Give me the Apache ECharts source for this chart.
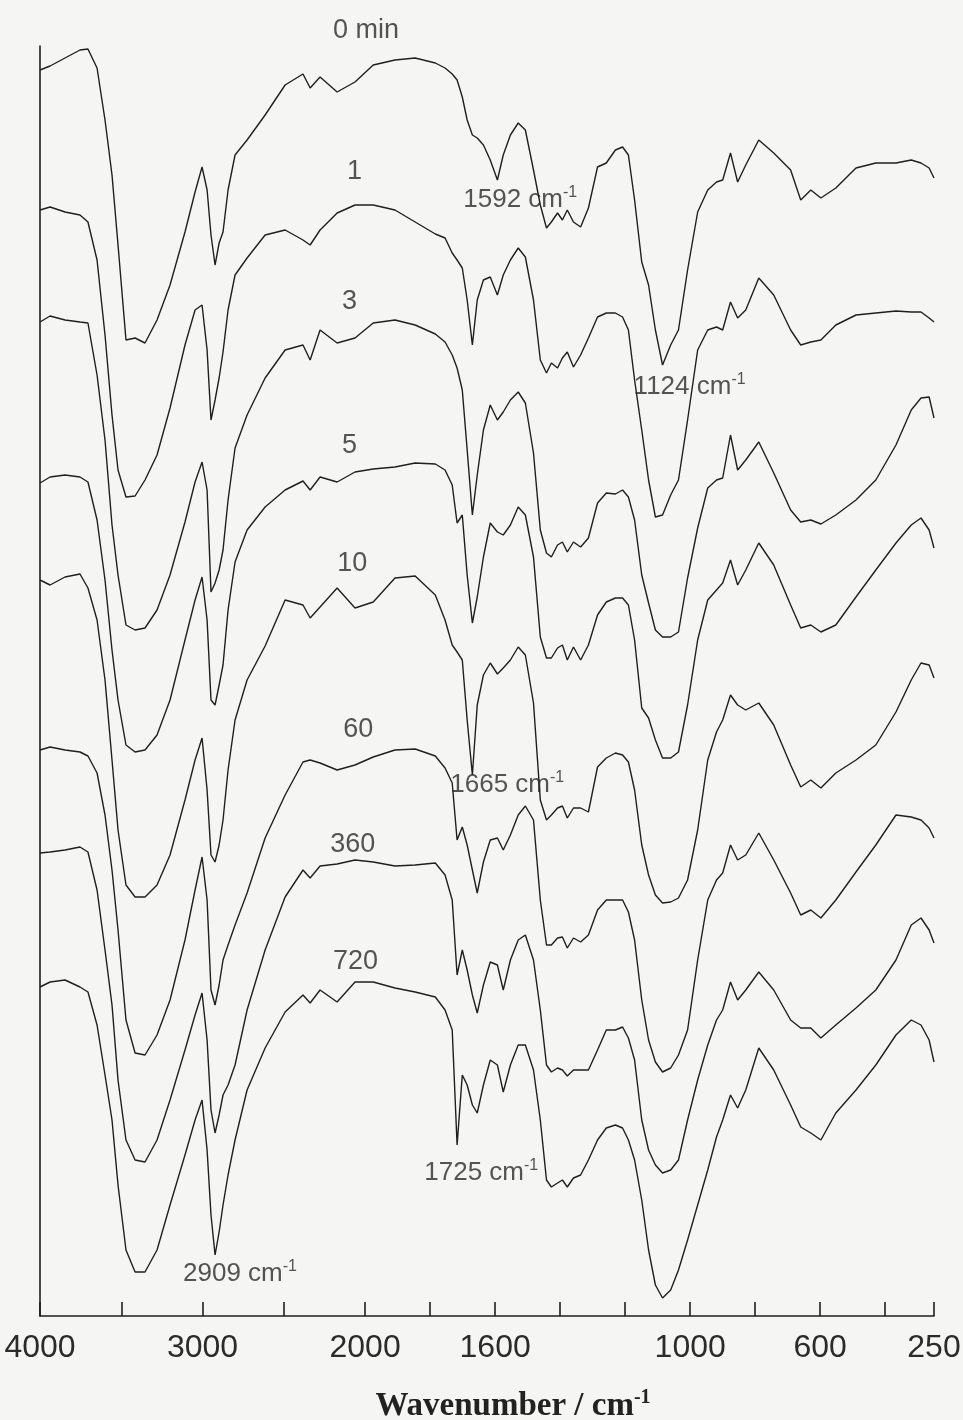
<!DOCTYPE html>
<html>
<head>
<meta charset="utf-8">
<title>IR spectra vs time</title>
<script src="https://cdn.jsdelivr.net/npm/echarts@6.0.0/dist/echarts.min.js"></script>
<style>
  html, body { margin: 0; padding: 0; background: #f5f5f4; }
  #chart { width: 963px; height: 1420px; }
</style>
</head>
<body>
<div id="chart"></div>
<script>
// wavenumber grid, cm-1
var wavenumbers = [
  4000, 3938, 3846, 3754, 3705, 3649, 3600, 3557, 3520, 3471,
  3415, 3354, 3280, 3200, 3108, 3046, 3003, 2972, 2948, 2923,
  2898, 2874, 2843, 2800, 2726, 2615, 2492, 2382, 2338, 2277,
  2172, 2062, 1975, 1908, 1846, 1784, 1754, 1732, 1717, 1701,
  1686, 1670, 1655, 1636, 1615, 1593, 1575, 1553, 1529, 1507,
  1482, 1461, 1442, 1427, 1408, 1393, 1378, 1359, 1337, 1313,
  1285, 1258, 1230, 1208, 1190, 1171, 1149, 1128, 1107, 1085,
  1060, 1036, 1008, 977, 946, 919, 900, 876, 854, 829,
  789, 743, 691, 660, 629, 598, 552, 490, 429, 367,
  320, 290, 265, 250
];

// offset transmittance, arbitrary units (stacked traces)
var t0 = [
  1246, 1250, 1258, 1266, 1267, 1248, 1196, 1141, 1071, 976,
  978, 973, 996, 1031, 1084, 1124, 1149, 1126, 1081, 1051,
  1073, 1084, 1126, 1161, 1176, 1201, 1231, 1242, 1228, 1239,
  1224, 1234, 1251, 1256, 1258, 1253, 1248, 1242, 1236, 1219,
  1196, 1181, 1178, 1171, 1156, 1136, 1161, 1181, 1193, 1186,
  1146, 1111, 1088, 1094, 1103, 1096, 1106, 1094, 1089, 1108,
  1149, 1153, 1166, 1169, 1161, 1116, 1054, 1031, 986, 951,
  971, 986, 1046, 1104, 1126, 1134, 1136, 1163, 1134, 1151,
  1176, 1163, 1146, 1116, 1126, 1118, 1128, 1148, 1153, 1153,
  1156, 1153, 1148, 1138
];
var t1 = [
  1106, 1109, 1104, 1101, 1094, 1056, 981, 901, 846, 819,
  820, 836, 861, 908, 971, 1006, 1011, 966, 896, 916,
  938, 964, 1006, 1041, 1058, 1081, 1086, 1076, 1071, 1086,
  1103, 1111, 1111, 1106, 1094, 1082, 1078, 1063, 1056, 1048,
  1016, 971, 1016, 1036, 1039, 1021, 1041, 1056, 1068, 1059,
  1016, 956, 943, 953, 948, 958, 964, 949, 961, 978,
  999, 1003, 1003, 999, 986, 936, 886, 836, 799, 801,
  821, 836, 896, 966, 986, 989, 986, 1014, 998, 1006,
  1038, 1021, 986, 971, 974, 976, 991, 1001, 1003, 1005,
  1004, 1004, 998, 994
];
var t3 = [
  994, 1000, 996, 994, 993, 941, 876, 791, 741, 691,
  686, 688, 706, 741, 794, 834, 854, 826, 724, 733,
  746, 766, 816, 868, 901, 938, 966, 971, 956, 986,
  973, 978, 993, 996, 991, 982, 974, 961, 948, 926,
  866, 801, 841, 886, 911, 896, 904, 916, 924, 913,
  863, 786, 763, 759, 771, 774, 764, 774, 769, 778,
  813, 823, 822, 826, 819, 796, 741, 713, 686, 679,
  679, 684, 738, 788, 828, 836, 838, 881, 846, 856,
  874, 843, 806, 794, 796, 792, 801, 816, 836, 871,
  906, 918, 919, 898
];
var t5 = [
  833, 839, 841, 839, 834, 796, 736, 666, 616, 571,
  564, 566, 581, 616, 676, 716, 739, 696, 616, 611,
  631, 651, 706, 754, 786, 809, 826, 835, 826, 839,
  834, 844, 847, 849, 853, 852, 846, 831, 793, 801,
  741, 693, 719, 759, 793, 784, 781, 791, 809, 801,
  759, 679, 658, 658, 668, 671, 656, 669, 656, 671,
  701, 714, 718, 718, 711, 676, 608, 598, 576, 558,
  558, 564, 611, 676, 716, 726, 733, 756, 731, 746,
  773, 751, 711, 688, 691, 684, 691, 719, 746, 773,
  791, 798, 786, 768
];
var t10 = [
  736, 731, 739, 742, 728, 696, 636, 556, 486, 431,
  419, 419, 431, 461, 516, 556, 578, 526, 461, 454,
  471, 496, 546, 596, 636, 670, 716, 711, 698, 709,
  728, 708, 714, 738, 740, 721, 696, 671, 664, 656,
  596, 541, 611, 641, 653, 642, 648, 656, 669, 661,
  613, 516, 496, 501, 508, 510, 498, 508, 508, 504,
  549, 558, 563, 561, 554, 526, 471, 441, 421, 413,
  414, 418, 436, 486, 556, 584, 596, 621, 611, 606,
  613, 591, 551, 529, 536, 528, 543, 556, 571, 604,
  636, 653, 651, 638
];
var t60 = [
  566, 569, 566, 564, 560, 543, 501, 446, 386, 296,
  263, 261, 281, 316, 376, 426, 459, 416, 326, 311,
  331, 356, 371, 391, 423, 478, 521, 554, 556, 553,
  546, 551, 559, 566, 567, 560, 548, 533, 476, 489,
  471, 446, 423, 454, 476, 478, 466, 481, 501, 510,
  496, 416, 371, 371, 378, 379, 368, 378, 374, 381,
  406, 416, 416, 416, 404, 376, 316, 276, 254, 244,
  248, 261, 286, 356, 416, 436, 443, 471, 456, 461,
  483, 456, 423, 401, 406, 398, 416, 444, 471, 501,
  499, 496, 488, 478
];
var t360 = [
  463, 464, 466, 469, 464, 426, 366, 311, 236, 176,
  156, 154, 176, 216, 266, 301, 323, 276, 206, 183,
  201, 221, 231, 251, 306, 366, 419, 446, 438, 450,
  452, 456, 454, 450, 451, 453, 441, 416, 341, 366,
  346, 321, 303, 331, 354, 351, 326, 356, 376, 381,
  356, 306, 251, 244, 248, 246, 240, 246, 246, 246,
  266, 286, 286, 289, 278, 256, 196, 166, 151, 143,
  146, 156, 196, 236, 271, 296, 306, 334, 316, 326,
  344, 326, 296, 288, 288, 278, 291, 308, 326, 356,
  391, 398, 386, 373
];
var t720 = [
  329, 334, 336, 329, 324, 291, 241, 196, 131, 66,
  44, 44, 66, 111, 161, 196, 216, 166, 101, 61,
  84, 111, 141, 176, 226, 268, 304, 321, 313, 326,
  314, 334, 334, 328, 324, 319, 306, 286, 171, 241,
  231, 211, 203, 231, 256, 251, 224, 251, 271, 271,
  246, 196, 136, 129, 133, 136, 129, 138, 141, 156,
  176, 188, 191, 188, 176, 156, 116, 66, 31, 18,
  26, 46, 76, 111, 146, 179, 196, 221, 208, 226,
  268, 246, 211, 189, 183, 176, 203, 226, 251, 281,
  296, 291, 276, 254
];

var timeLabels = ['0 min', '1', '3', '5', '10', '60', '360', '720'];
var tickWavenumbers = [4000, 3500, 3000, 2500, 2000, 1800, 1600, 1400, 1200, 1000, 800, 600, 400, 250];
var labelWavenumbers = [4000, 3000, 2000, 1600, 1000, 600, 250];
var bandLabels = ['1592', '1124', '1665', '1725', '2909'];

// where the texts sit, in [wavenumber, value]
var timeLabelAt = [[2197, 1285], [2111, 1144], [2142, 1014], [2142, 870], [2172, 752], [2135, 586], [2215, 471], [2197, 354]];
var bandLabelAt = [[1698, 1116], [1174, 929], [1738, 531], [1818, 143], [3120, 42]];

// the axis is compressed 2x above 2000 cm-1
function toU(w) { return w >= 2000 ? 4000 - w : 2000 + 2 * (2000 - w); }
function toW(u) { return u <= 2000 ? 4000 - u : 2000 - (u - 2000) / 2; }

var spectra = [t0, t1, t3, t5, t10, t60, t360, t720];
var lineColor = '#1f1f1f';
var textColor = '#2b2b2b';
var sans = '"Liberation Sans", Arial, sans-serif';

var series = spectra.map(function (vals, k) {
  return {
    name: timeLabels[k],
    type: 'line',
    symbol: 'none',
    silent: true,
    data: wavenumbers.map(function (w, i) { return [toU(w), vals[i]]; }),
    lineStyle: { color: lineColor, width: 1.4 }
  };
});

var labelData = [];
timeLabels.forEach(function (t, i) {
  labelData.push({
    value: [toU(timeLabelAt[i][0]), timeLabelAt[i][1]],
    label: { formatter: '{n|' + t + '}' }
  });
});
bandLabels.forEach(function (t, i) {
  labelData.push({
    value: [toU(bandLabelAt[i][0]), bandLabelAt[i][1]],
    label: { formatter: '{b|' + t + ' cm}{s|-1}' }
  });
});

series.push({
  type: 'scatter',
  silent: true,
  clip: false,
  symbolSize: 1,
  itemStyle: { color: 'rgba(0,0,0,0)' },
  z: 5,
  data: labelData,
  label: {
    show: true,
    position: 'inside',
    align: 'left',
    verticalAlign: 'middle',
    rich: {
      n: { fontSize: 27, fontFamily: sans, color: textColor, lineHeight: 30 },
      b: { fontSize: 26, fontFamily: sans, color: textColor, lineHeight: 30 },
      s: { fontSize: 16, fontFamily: sans, color: textColor, verticalAlign: 'top', lineHeight: 16 }
    }
  }
});

var chart = echarts.init(document.getElementById('chart'));
chart.setOption({
  animation: false,
  backgroundColor: '#f5f5f4',
  grid: { left: 40, right: 29, top: 46, bottom: 104, outerBoundsMode: 'none' },
  xAxis: {
    type: 'value',
    min: 0,
    max: 5500,
    axisLine: { show: true, onZero: false, lineStyle: { color: lineColor, width: 1.6 } },
    axisTick: {
      show: true,
      inside: true,
      length: 14,
      customValues: tickWavenumbers.map(toU),
      lineStyle: { color: lineColor, width: 1.6 }
    },
    axisLabel: {
      show: true,
      customValues: labelWavenumbers.map(toU),
      formatter: function (u) { return String(Math.round(toW(u))); },
      fontSize: 32,
      fontFamily: sans,
      color: textColor,
      margin: 16
    },
    splitLine: { show: false },
    name: '{t|Wavenumber / cm}{s|-1}',
    nameLocation: 'middle',
    nameGap: 72,
    nameTextStyle: {
      padding: [0, 0, 0, 52],
      rich: {
        t: { fontSize: 33, fontWeight: 'bold', fontFamily: '"Liberation Serif", "Times New Roman", serif', color: '#222', lineHeight: 36 },
        s: { fontSize: 20, fontWeight: 'bold', fontFamily: '"Liberation Serif", "Times New Roman", serif', color: '#222', verticalAlign: 'top', lineHeight: 20 }
      }
    }
  },
  yAxis: {
    type: 'value',
    min: 0,
    max: 1270,
    axisLine: { show: true, lineStyle: { color: lineColor, width: 1.6 } },
    axisTick: { show: false },
    axisLabel: { show: false },
    splitLine: { show: false }
  },
  series: series
});
</script>
</body>
</html>
